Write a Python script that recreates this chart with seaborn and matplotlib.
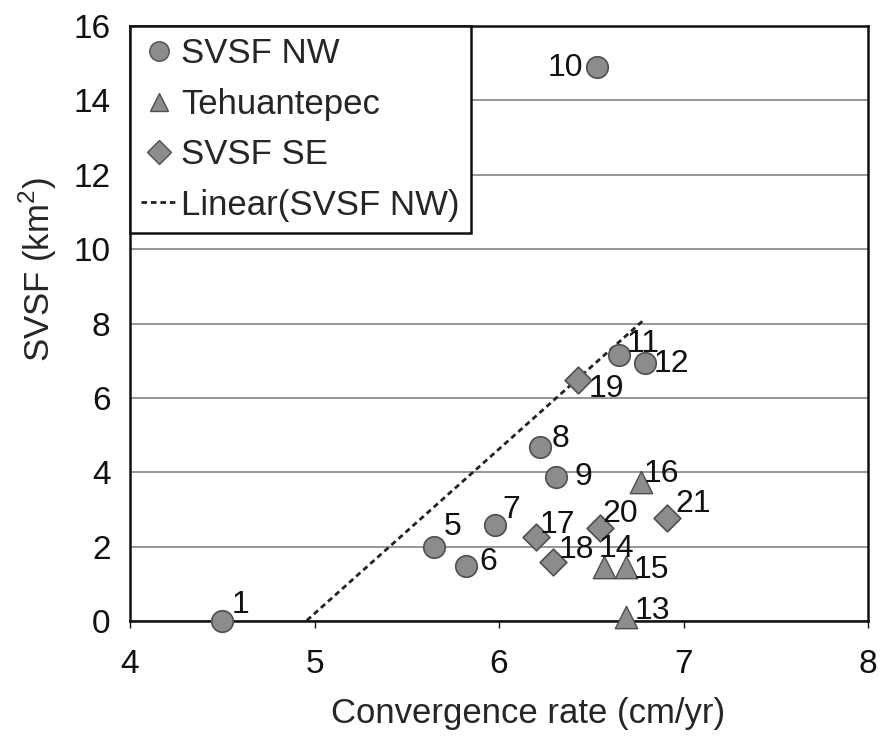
import numpy as np
import pandas as pd
import matplotlib
matplotlib.use("Agg")
import matplotlib.pyplot as plt
from matplotlib.lines import Line2D
import seaborn as sns

# SVSF NW volcanic centres
nw_ids = [1, 5, 6, 7, 8, 9, 10, 11, 12]
nw_rate = [4.50, 5.65, 5.82, 5.98, 6.22, 6.31, 6.53, 6.65, 6.79]
nw_svsf = [0.0, 2.00, 1.48, 2.58, 4.69, 3.88, 14.9, 7.15, 6.93]

# Tehuantepec
teh_ids = [13, 14, 15, 16]
teh_rate = [6.69, 6.57, 6.69, 6.77]
teh_svsf = [0.12, 1.45, 1.45, 3.73]

# SVSF SE
se_ids = [17, 18, 19, 20, 21]
se_rate = [6.20, 6.29, 6.43, 6.55, 6.91]
se_svsf = [2.27, 1.59, 6.48, 2.49, 2.76]

x_ticks = [4, 5, 6, 7, 8]
y_ticks = [0, 2, 4, 6, 8, 10, 12, 14, 16]

# label placement in pixels relative to each marker (dx, dy, ha)
label_pos = {
    1: (9, 8, "left"), 5: (9, 12, "left"), 6: (14, -4, "left"),
    7: (7, 7, "left"), 8: (12, 0, "left"), 9: (18, -8, "left"),
    10: (-14, -9, "right"), 11: (8, 3, "left"), 12: (9, -9, "left"),
    13: (8, -2, "left"), 14: (-6, 10, "left"), 15: (7, -11, "left"),
    16: (3, 0, "left"), 17: (4, 4, "left"), 18: (6, 4, "left"),
    19: (10, -17, "left"), 20: (2, 6, "left"), 21: (8, 6, "left"),
}

sns.set_theme(style="white")
plt.rcParams["font.family"] = ["Liberation Sans", "DejaVu Sans"]
plt.rcParams["mathtext.fontset"] = "custom"
plt.rcParams["mathtext.rm"] = "Liberation Sans"

fig = plt.figure(figsize=(8.84, 7.40), dpi=100)
ax = fig.add_axes([130 / 884, 1 - 621 / 740, 738 / 884, 595 / 740])

face = "#8c8c8c"
edge = "#4f4f4f"
ink = "#111111"
dash = (0, (2.0, 1.4))

df_nw = pd.DataFrame({"rate": nw_rate, "svsf": nw_svsf})
df_teh = pd.DataFrame({"rate": teh_rate, "svsf": teh_svsf})
df_se = pd.DataFrame({"rate": se_rate, "svsf": se_svsf})

# least-squares trend of the NW group
slope, intercept = np.polyfit(nw_rate, nw_svsf, 1)
fit_x = np.array([min(nw_rate), max(nw_rate)])
df_fit = pd.DataFrame({"rate": fit_x, "svsf": slope * fit_x + intercept})
sns.lineplot(data=df_fit, x="rate", y="svsf", ax=ax, color="#222222",
             linestyle=dash, linewidth=2.0, zorder=2)

sns.scatterplot(data=df_nw, x="rate", y="svsf", ax=ax, marker="o", s=240,
                color=face, edgecolor=edge, linewidth=1.2, zorder=3,
                clip_on=False)
sns.scatterplot(data=df_teh, x="rate", y="svsf", ax=ax, marker="^", s=260,
                color=face, edgecolor=edge, linewidth=1.0, zorder=3,
                clip_on=False)
sns.scatterplot(data=df_se, x="rate", y="svsf", ax=ax, marker="D", s=185,
                color=face, edgecolor=edge, linewidth=1.2, zorder=3,
                clip_on=False)

for ids, xs, ys in [(nw_ids, nw_rate, nw_svsf), (teh_ids, teh_rate, teh_svsf),
                    (se_ids, se_rate, se_svsf)]:
    for i, x, y in zip(ids, xs, ys):
        dx, dy, ha = label_pos[i]
        ax.annotate(str(i), (x, y), xytext=(dx, dy), textcoords="offset pixels",
                    ha=ha, va="baseline", fontsize=23, color=ink, zorder=4)

ax.set_xlim(4, 8)
ax.set_ylim(0, 16)
ax.set_xticks(x_ticks)
ax.set_yticks(y_ticks)
ax.yaxis.grid(True, color="#7a7a7a", linewidth=1.1)
ax.xaxis.grid(False)
ax.set_axisbelow(True)
for s in ax.spines.values():
    s.set_color(ink)
    s.set_linewidth(1.8)
ax.tick_params(axis="x", length=5, width=1, direction="out", labelsize=24,
               pad=15, colors=ink, bottom=True)
ax.tick_params(axis="y", length=0, labelsize=24, pad=14, colors=ink)
ax.set_xlabel("Convergence rate (cm/yr)", fontsize=25, va="top")
ax.set_ylabel("SVSF (km$^2$)", fontsize=25)
ax.xaxis.set_label_coords(0.54, -0.128)
ax.yaxis.set_label_coords(-0.096, 0.59)

handles = [
    Line2D([], [], marker="o", linestyle="none", markersize=14,
           markerfacecolor=face, markeredgecolor=edge),
    Line2D([], [], marker="^", linestyle="none", markersize=13,
           markerfacecolor=face, markeredgecolor=edge),
    Line2D([], [], marker="D", linestyle="none", markersize=12,
           markerfacecolor=face, markeredgecolor=edge),
    Line2D([], [], color="#222222", linestyle=dash, linewidth=2.0),
]
labels = ["SVSF NW", "Tehuantepec", "SVSF SE", "Linear(SVSF NW)"]
leg = ax.legend(handles, labels, loc="upper left", bbox_to_anchor=(0, 1),
                borderaxespad=0, frameon=True, fancybox=False, fontsize=25,
                handlelength=1.0, handletextpad=0.15, labelspacing=0.5,
                borderpad=0.33, markerscale=1.0)
leg.get_frame().set_edgecolor(ink)
leg.get_frame().set_linewidth(1.8)
leg.get_frame().set_alpha(1)

fig.savefig("out.png", dpi=100)
